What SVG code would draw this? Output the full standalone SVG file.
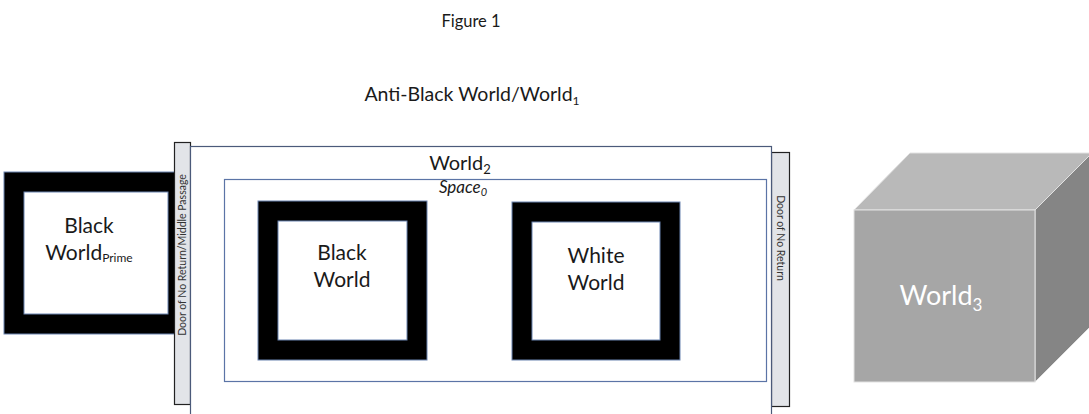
<svg xmlns="http://www.w3.org/2000/svg" width="1089" height="414" viewBox="0 0 1089 414">
  <style>
    .t { font-family: Lato, "Liberation Sans", sans-serif; fill: #1a1a1a; }
    .frame { fill: #ffffff; stroke: #000000; stroke-width: 20; }
    .edge { fill: none; stroke: #6b84b0; stroke-width: 1; }
    .door { fill: #e2e4e8; stroke: #222; stroke-width: 1.2; }
    .doortxt { font-family: Lato, "Liberation Sans", sans-serif; font-size: 10.5px; fill: #333; }
  </style>
  <rect width="1089" height="414" fill="#ffffff"/>

  <text class="t" x="471" y="27" font-size="16.5" text-anchor="middle">Figure 1</text>
  <text class="t" x="472" y="101" font-size="19.5" text-anchor="middle">Anti-Black World/World<tspan font-size="12" dy="4">1</tspan></text>

  <!-- Black World Prime, outside the left door -->
  <g id="black-world-prime">
    <rect class="frame" x="14" y="182" width="164" height="142"/>
    <rect class="edge" x="4" y="172" width="184" height="162"/>
    <rect class="edge" x="24" y="192" width="144" height="122"/>
    <text class="t" x="89" y="233" font-size="21" text-anchor="middle">Black</text>
    <text class="t" x="89" y="260" font-size="21" text-anchor="middle">World<tspan font-size="12" dy="2">Prime</tspan></text>
  </g>

  <!-- left door strip -->
  <g id="door-left">
    <rect class="door" x="174.5" y="142.5" width="16" height="262"/>
    <text class="doortxt" transform="translate(186 255) rotate(-90)" text-anchor="middle">Door of No Return/Middle Passage</text>
  </g>

  <!-- right door strip -->
  <g id="door-right">
    <rect class="door" x="771.5" y="152.5" width="18" height="254"/>
    <text class="doortxt" transform="translate(777 238) rotate(90)" text-anchor="middle">Door of No Return</text>
  </g>

  <!-- World2 enclosure -->
  <g id="world2">
    <rect x="190.5" y="146.5" width="581" height="270" fill="#ffffff" stroke="#4b5a7a" stroke-width="1.2"/>
    <text class="t" x="460" y="170" font-size="20" text-anchor="middle">World<tspan font-size="13" dy="4">2</tspan></text>
  </g>

  <!-- Space0 -->
  <g id="space0">
    <rect x="224.5" y="179.5" width="542" height="202" fill="none" stroke="#5b74a6" stroke-width="1.2"/>
    <text class="t" x="463" y="193" font-size="17" font-style="italic" text-anchor="middle">Space<tspan font-size="11" dy="3">0</tspan></text>
  </g>

  <!-- Black World -->
  <g id="black-world">
    <rect class="frame" x="268" y="211" width="149" height="139"/>
    <rect class="edge" x="258" y="201" width="169" height="159"/>
    <rect class="edge" x="278" y="221" width="129" height="119"/>
    <text class="t" x="342" y="260" font-size="21" text-anchor="middle">Black</text>
    <text class="t" x="342" y="287" font-size="21" text-anchor="middle">World</text>
  </g>

  <!-- White World -->
  <g id="white-world">
    <rect class="frame" x="522" y="212" width="148" height="138"/>
    <rect class="edge" x="512" y="202" width="168" height="158"/>
    <rect class="edge" x="532" y="222" width="128" height="118"/>
    <text class="t" x="596" y="263" font-size="21" text-anchor="middle">White</text>
    <text class="t" x="596" y="290" font-size="21" text-anchor="middle">World</text>
  </g>

  <!-- World3 cube -->
  <g id="world3" stroke="#e2e2e2" stroke-width="1">
    <polygon points="854,210 910,153 1092,153 1035,210" fill="#b9b9b9"/>
    <polygon points="1035,210 1092,153 1092,325 1035,382" fill="#858585"/>
    <rect x="854" y="210" width="181" height="172" fill="#a6a6a6"/>
    <text x="941" y="305" font-family="Lato, 'Liberation Sans', sans-serif" font-size="27" fill="#ffffff" stroke="none" text-anchor="middle">World<tspan font-size="17" dy="6">3</tspan></text>
  </g>
</svg>
